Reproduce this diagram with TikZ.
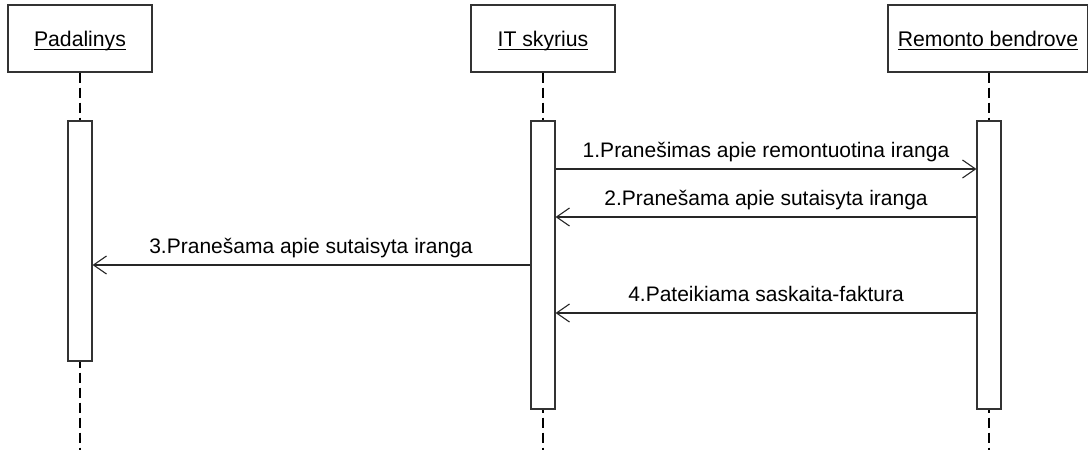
\documentclass[tikz,border=0pt]{standalone}
\usepackage{fontspec}
\setmainfont{Liberation Sans}
\usetikzlibrary{arrows.meta}
% underlined object name, rule sitting just below the baseline
\newcommand{\objname}[1]{\setbox0\hbox{#1}\rlap{\rule[-3.6pt]{\wd0}{1pt}}\box0}
\begin{document}
\begin{tikzpicture}[x=1pt,y=-1pt,
  line join=miter,
  headbox/.style={draw=black!80, line width=1.1pt, fill=white, minimum width=#1,
    minimum height=67pt, inner sep=0pt, text height=17pt, text depth=2pt,
    font=\fontsize{21.2}{25}\selectfont},
  actbox/.style={draw=black!80, line width=1.1pt, fill=white, minimum width=24pt,
    minimum height=#1, inner sep=0pt},
  life/.style={draw=black, line width=2.8pt, dash pattern=on 10pt off 5pt},
  msg/.style={draw=black!85, line width=1.1pt,
    -{Straight Barb[length=13pt,width=18pt,line width=1.1pt]}},
  msglabel/.style={anchor=base, inner sep=0pt, font=\fontsize{21}{25}\selectfont}
]
\useasboundingbox (0,0) rectangle (1088,450);

% object heads
\node[headbox=144pt] (pad) at (80,38.5) {\objname{Padalinys}};
\node[headbox=144pt] (it)  at (543,38.5) {\objname{IT skyrius}};
\node[headbox=200pt] (rem) at (988,38.5) {\objname{Remonto bendrove}};

% lifeline ends at the bottom edge
\coordinate (padend) at (80,450);
\coordinate (itend)  at (543,450);
\coordinate (remend) at (989,450);

\draw[life] (pad.south) -- (padend);
\draw[life] (it.south) -- (itend);
\draw[life] (remend |- rem.south) -- (remend);

% activation bars
\node[actbox=240pt] (padact) at (80,241) {};
\node[actbox=288pt] (itact)  at (543,265) {};
\node[actbox=288pt] (remact) at (989,265) {};

% messages
\draw[msg] (itact.east |- 0,169) -- (remact.west |- 0,169);
\node[msglabel] (l1) at (766,157) {1.Pranešimas apie remontuotina iranga};

\draw[msg] (remact.west |- 0,217) -- (itact.east |- 0,217);
\node[msglabel] (l2) at (766,205) {2.Pranešama apie sutaisyta iranga};

\draw[msg] (itact.west |- 0,265) -- (padact.east |- 0,265);
\node[msglabel] (l3) at (311,253) {3.Pranešama apie sutaisyta iranga};

\draw[msg] (remact.west |- 0,313) -- (itact.east |- 0,313);
\node[msglabel] (l4) at (766,301) {4.Pateikiama saskaita-faktura};
\end{tikzpicture}
\end{document}
